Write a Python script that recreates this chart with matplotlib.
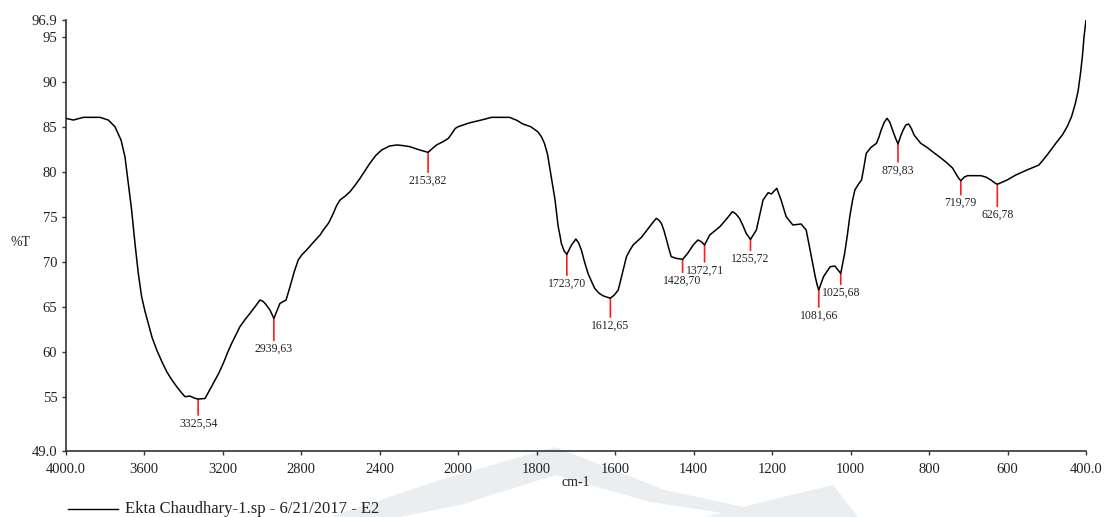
import numpy as np
import matplotlib
matplotlib.use("Agg")
import matplotlib.pyplot as plt
from matplotlib.lines import Line2D
from matplotlib.patches import Polygon

# ---- spectrum (cm-1, %T) ----
wavenumber = [
    4000, 3961, 3910, 3825, 3783, 3749, 3718, 3698, 3681, 3664, 3647, 3630,
    3613, 3596, 3579, 3560, 3536, 3510, 3485, 3460, 3434, 3412, 3392, 3367,
    3341, 3325, 3290, 3270, 3248, 3220, 3197, 3175, 3154, 3130, 3112, 3085,
    3061, 3035, 3010, 2995, 2984, 2959, 2939, 2908, 2877, 2857, 2835, 2815,
    2795, 2772, 2740, 2704, 2687, 2660, 2636, 2620, 2602, 2575, 2551, 2525,
    2500, 2475, 2450, 2420, 2390, 2350, 2313, 2280, 2246, 2195, 2153, 2130,
    2110, 2080, 2050, 2030, 2015, 2000, 1970, 1940, 1915, 1869, 1850, 1835,
    1815, 1797, 1788, 1780, 1772, 1767, 1760, 1753, 1745, 1740, 1737, 1730,
    1723, 1711, 1700, 1693, 1686, 1678, 1669, 1660, 1652, 1641, 1631, 1620,
    1612, 1602, 1592, 1582, 1571, 1562, 1554, 1533, 1512, 1503, 1495, 1488,
    1482, 1475, 1469, 1462, 1457, 1444, 1428, 1415, 1401, 1389, 1380, 1372,
    1359, 1333, 1315, 1301, 1292, 1283, 1274, 1266, 1255, 1240, 1223, 1210,
    1202, 1188, 1177, 1164, 1147, 1126, 1113, 1103, 1096, 1090, 1085, 1081,
    1075, 1069, 1052, 1040, 1025, 1015, 1008, 1002, 995, 989, 980, 972,
    966, 960, 948, 934, 928, 922, 914, 907, 900, 893, 886, 879,
    872, 866, 859, 852, 845, 838, 821, 805, 791, 772, 753, 740,
    732, 725, 719, 710, 702, 668, 655, 642, 634, 626, 600, 579,
    550, 520, 500, 477, 460, 448, 437, 427, 420, 414, 409, 405,
    400,
]
transmittance = [
    85.93, 85.74, 86.04, 86.04, 85.74, 85.00, 83.52, 81.67, 78.70, 75.74, 72.04, 68.70,
    66.10, 64.50, 63.15, 61.60, 60.19, 58.90, 57.78, 56.90, 56.11, 55.50, 55.00, 55.07,
    54.82, 54.74, 54.80, 55.60, 56.50, 57.60, 58.70, 59.90, 60.93, 62.00, 62.78, 63.60,
    64.26, 65.00, 65.74, 65.60, 65.37, 64.63, 63.70, 65.37, 65.74, 67.20, 68.90, 70.19,
    70.80, 71.30, 72.10, 72.96, 73.52, 74.30, 75.37, 76.20, 76.85, 77.30, 77.78, 78.50,
    79.26, 80.10, 80.93, 81.80, 82.41, 82.85, 82.97, 82.90, 82.78, 82.41, 82.15, 82.60,
    82.97, 83.30, 83.70, 84.30, 84.80, 85.00, 85.44, 85.75, 86.04, 86.04, 85.70, 85.30,
    85.00, 84.44, 83.90, 83.15, 81.90, 80.56, 78.70, 76.85, 73.90, 72.80, 72.04, 71.20,
    70.82, 71.86, 72.52, 72.10, 71.30, 70.00, 68.70, 67.80, 67.04, 66.50, 66.22, 66.05,
    65.95, 66.30, 66.85, 68.60, 70.56, 71.30, 71.86, 72.70, 73.89, 74.40, 74.82, 74.60,
    74.26, 73.40, 72.41, 71.30, 70.56, 70.37, 70.26, 70.93, 71.86, 72.41, 72.22, 71.86,
    72.96, 73.89, 74.80, 75.56, 75.30, 74.82, 74.00, 73.15, 72.48, 73.52, 76.85, 77.67,
    77.52, 78.15, 76.85, 75.00, 74.08, 74.19, 73.52, 71.30, 69.70, 68.33, 67.40, 66.85,
    67.60, 68.33, 69.44, 69.52, 68.70, 70.93, 73.00, 75.00, 76.80, 77.96, 78.60, 79.07,
    80.50, 82.04, 82.70, 83.15, 83.80, 84.63, 85.50, 85.93, 85.50, 84.63, 83.80, 83.08,
    84.00, 84.63, 85.20, 85.30, 84.80, 84.07, 83.15, 82.70, 82.22, 81.60, 80.93, 80.40,
    79.82, 79.30, 79.00, 79.40, 79.56, 79.56, 79.40, 79.07, 78.80, 78.60, 79.10, 79.63,
    80.20, 80.74, 81.80, 83.15, 84.10, 85.00, 86.10, 87.60, 89.00, 90.93, 92.90, 95.00,
    96.86,
]

# labelled absorption bands
peak_wavenumbers = [3325, 2939, 2153, 1723, 1612, 1428, 1372, 1255, 1081, 1025, 879, 719, 626]

x_ticks = [4000, 3600, 3200, 2800, 2400, 2000, 1800, 1600, 1400, 1200, 1000, 800, 600, 400]
x_tick_labels = ["4000.0", "3600", "3200", "2800", "2400", "2000", "1800", "1600",
                 "1400", "1200", "1000", "800", "600", "400.0"]
y_ticks = [49.0, 55, 60, 65, 70, 75, 80, 85, 90, 95, 96.9]
y_tick_labels = ["49.0", "55", "60", "65", "70", "75", "80", "85", "90", "95", "96.9"]

legend_text = "Ekta Chaudhary-1.sp - 6/21/2017 - E2"
x_label = "cm-1"
y_label = "%T"

# ---- layout ----
W, H = 1105, 517
stem_px = [16, 22, 20, 21, 19, 13, 17, 11, 17, 11, 18, 14, 22]   # red stem length per band
label_gap_px = 8.5

plt.rcParams["font.family"] = ["Liberation Serif", "DejaVu Serif"]
TEXT = "#222222"

fig = plt.figure(figsize=(W / 100, H / 100), dpi=100)
ax = fig.add_axes([65.7 / W, 1 - 450.7 / H, (1086 - 65.7) / W, (450.7 - 19.6) / H])
ax.patch.set_visible(False)


# wavenumber axis: 4000-2000 is drawn at half the scale of 2000-400
def fwd(x):
    x = np.asarray(x, dtype=float)
    return np.where(x >= 2000, 2000 + (x - 2000) / 2.0, x)


def inv(y):
    y = np.asarray(y, dtype=float)
    return np.where(y >= 2000, 2000 + (y - 2000) * 2.0, y)


ax.set_xscale("function", functions=(fwd, inv))
ax.set_xlim(4000, 400)
ax.set_ylim(49.0, 96.9)

ax.plot(wavenumber, transmittance, color="black", lw=1.1, zorder=3,
        solid_joinstyle="round")

# band markers: red stem below each minimum with "cm-1,%T" label
lookup = dict(zip(wavenumber, transmittance))
for wn, L in zip(peak_wavenumbers, stem_px):
    t = lookup[wn]
    ax.annotate("", xy=(wn, t), xytext=(0, -L), textcoords="offset pixels",
                arrowprops=dict(arrowstyle="-", color="#ff1a1a", lw=1.2,
                                shrinkA=0, shrinkB=0), zorder=2)
    ax.annotate(f"{wn},{int(t)}", xy=(wn, t), xytext=(0, -(L + label_gap_px)),
                textcoords="offset pixels", ha="center", va="center",
                fontsize=8.5, color=TEXT)

# axes styling
for side in ("top", "right"):
    ax.spines[side].set_visible(False)
for side in ("left", "bottom"):
    ax.spines[side].set_color("#333333")
    ax.spines[side].set_linewidth(1.2)

ax.set_xticks(x_ticks)
ax.set_xticklabels(x_tick_labels)
ax.xaxis.set_minor_locator(matplotlib.ticker.NullLocator())
ax.set_yticks(y_ticks)
ax.set_yticklabels(y_tick_labels)
ax.tick_params(axis="both", direction="out", length=3, width=1, color="#333333",
               labelsize=10.5, labelcolor=TEXT)
ax.tick_params(axis="x", pad=6)
ax.tick_params(axis="y", pad=3)

fig.text(575.8 / W, 1 - 482 / H, x_label, ha="center", va="center", fontsize=10, color=TEXT)
fig.text(20 / W, 1 - 243 / H, y_label, ha="center", va="center", fontsize=10, color=TEXT)

# legend entry
fig.add_artist(Line2D([68 / W, 118 / W], [1 - 509 / H, 1 - 509 / H],
                      transform=fig.transFigure, color="black", lw=1))
fig.text(125 / W, 1 - 509 / H, legend_text, ha="left", va="center", fontsize=12, color=TEXT)


# faint background emblem along the lower edge
def fig_poly(points, **kw):
    pts = [(x / W, 1 - y / H) for x, y in points]
    fig.add_artist(Polygon(pts, closed=True, transform=fig.transFigure, **kw))


EMBLEM = "#eaeef0"
fig_poly([(330, 517), (440, 480), (555, 447), (665, 490), (790, 517),
          (750, 517), (650, 502), (555, 475), (460, 505), (400, 517)],
         facecolor=EMBLEM, edgecolor="none", zorder=-5)
fig_poly([(705, 517), (770, 500), (833, 485), (858, 517)],
         facecolor=EMBLEM, edgecolor="none", zorder=-5)

fig.savefig("out.png", dpi=100)
